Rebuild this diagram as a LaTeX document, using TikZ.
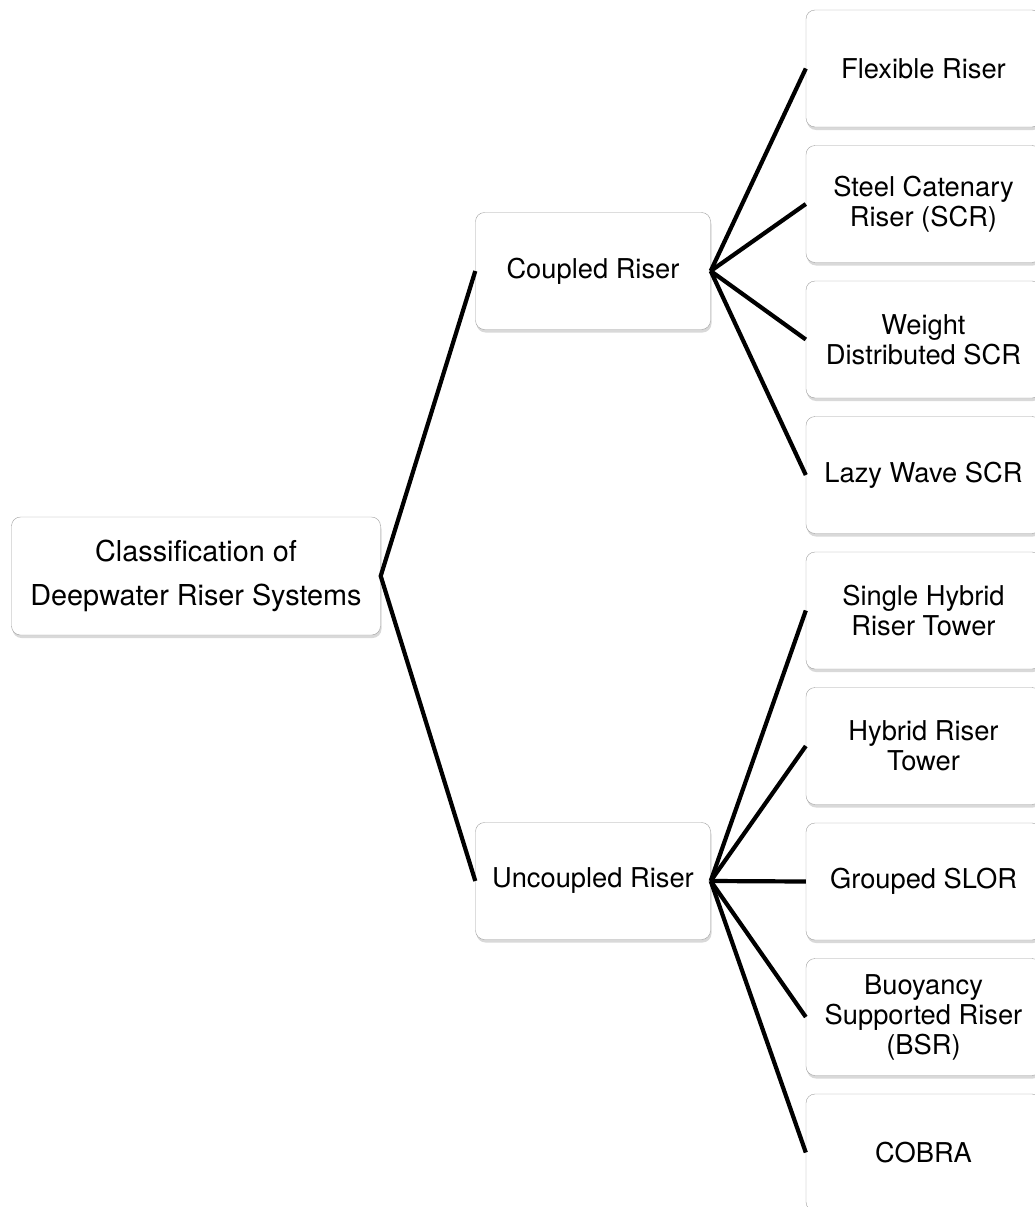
\documentclass[tikz,border=0pt]{standalone}
\usepackage{fontspec}
\setmainfont{TeX Gyre Heros}
\usetikzlibrary{shadows}

\begin{document}
\begin{tikzpicture}[x=1pt,y=-1pt,
  box/.style={draw=gray!75,rounded corners=9pt,fill=white,
    drop shadow={opacity=0.3,shadow xshift=1pt,shadow yshift=-3pt},
    minimum width=235pt,minimum height=117pt,align=center,
    font=\fontsize{27.3}{30}\selectfont},
  link/.style={line width=4.2pt}]
\useasboundingbox (0,0) rectangle (1034,1207);
%\draw[step=100] (0,0) grid (1034,1207);
\node[box,minimum width=369pt,minimum height=118pt,font=\fontsize{28.8}{44}\selectfont] (root) at (196,576) {Classification of\\Deepwater Riser Systems};
\node[box] (coupled) at (593,271) {Coupled Riser};
\node[box] (uncoupled) at (593,881) {Uncoupled Riser};
\node[box] (fr) at (923.5,68.5) {Flexible Riser};
\node[box] (scr) at (923.5,204) {Steel Catenary\\Riser (SCR)};
\node[box] (wd) at (923.5,339.5) {Weight\\Distributed SCR};
\node[box] (lw) at (923.5,475) {Lazy Wave SCR};
\node[box] (shr) at (923.5,610.5) {Single Hybrid\\Riser Tower};
\node[box] (hrt) at (923.5,746) {Hybrid Riser\\Tower};
\node[box] (gs) at (923.5,881.5) {Grouped SLOR};
\node[box] (bsr) at (923.5,1017) {Buoyancy\\Supported Riser\\(BSR)};
\node[box] (cobra) at (923.5,1152.5) {COBRA};
\draw[link] (coupled.west) -- (root.east) -- (uncoupled.west);
\foreach \c in {fr,scr,wd,lw}
  \draw[link] (coupled.east) -- (\c.west);
\foreach \c in {shr,hrt,gs,bsr,cobra}
  \draw[link] (uncoupled.east) -- (\c.west);
\end{tikzpicture}
\end{document}
